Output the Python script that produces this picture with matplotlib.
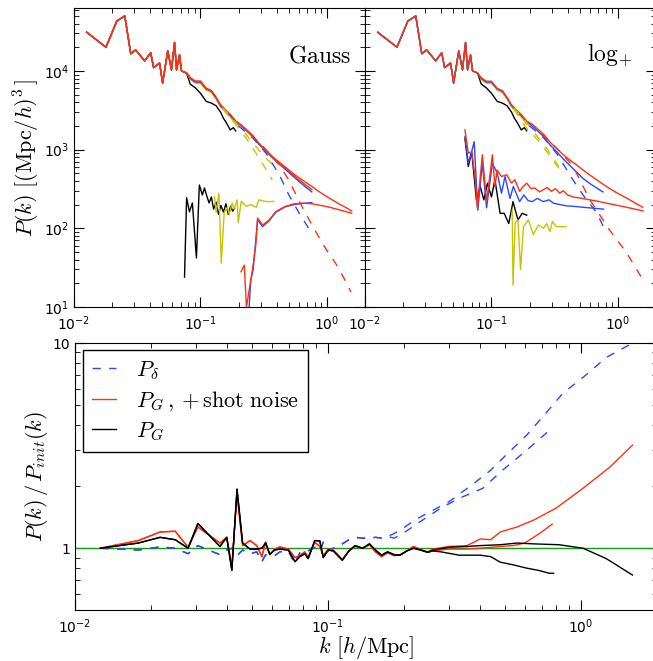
import numpy as np
import matplotlib
matplotlib.use("Agg")
import matplotlib.pyplot as plt
from matplotlib.ticker import FuncFormatter, NullFormatter
from matplotlib.font_manager import FontProperties

RED = '#ff3010'
BLUE = '#2a48ff'
YEL = '#c8c400'
GREEN = '#10a010'

# ---- top panels: shared low-k part of the measured spectra
k_low = [0.0126, 0.0179, 0.0218, 0.0252, 0.0281, 0.0307, 0.0362, 0.0404, 0.0426,
         0.0475, 0.0502, 0.0551, 0.0590, 0.0624, 0.0647, 0.0683, 0.0708, 0.0776]
p_low = [3.1e4, 2.0e4, 4.3e4, 5.0e4, 1.65e4, 1.85e4, 1.34e4, 1.7e4, 1.1e4,
         1.26e4, 7.0e3, 1.8e4, 1.03e4, 2.3e4, 1.03e4, 1.6e4, 1.0e4, 9.4e3]

k_mid = [0.083, 0.091, 0.100, 0.111, 0.122, 0.133, 0.144, 0.152, 0.160, 0.172, 0.182, 0.190]
p_mid_red = [8.2e3, 7.4e3, 7.4e3, 6.0e3, 5.6e3, 4.6e3, 3.7e3, 3.4e3, 3.1e3, 2.8e3, 2.5e3, 2.3e3]
p_mid_blue = [8.0e3, 7.2e3, 7.2e3, 5.9e3, 5.5e3, 4.5e3, 3.6e3, 3.3e3, 3.0e3, 2.7e3, 2.45e3, 2.25e3]
p_mid_yel = [7.8e3, 7.0e3, 6.9e3, 5.7e3, 5.3e3, 4.4e3, 3.5e3, 3.2e3, 2.9e3, 2.6e3, 2.3e3, 2.1e3]
p_mid_blk = [6.8e3, 6.1e3, 5.2e3, 4.1e3, 3.9e3, 3.6e3, 3.0e3, 2.5e3, 2.2e3, 1.78e3, 1.9e3, 1.73e3]

k_hi = [0.21, 0.23, 0.26, 0.29, 0.33, 0.37, 0.42, 0.47, 0.53, 0.60, 0.67, 0.76]
k_ext = [0.86, 0.97, 1.10, 1.24, 1.40, 1.57]

# Gauss panel
g_hi_red = [2.05e3, 1.8e3, 1.5e3, 1.2e3, 980, 820, 690, 600, 510, 440, 390, 340]
g_ext_red = [295, 260, 230, 205, 185, 166]
g_hi_red2 = [2.05e3, 1.8e3, 1.48e3, 1.19e3, 960, 800, 670, 580, 490, 415, 360, 310]
g_hi_blue = [2.0e3, 1.75e3, 1.45e3, 1.17e3, 950, 790, 655, 560, 470, 395, 340, 290]

g_kd_yel_a = [0.15, 0.19, 0.23, 0.28, 0.33, 0.37]
g_pd_yel_a = [3.3e3, 2.1e3, 1.4e3, 860, 560, 410]
g_kd_yel_b = [0.15, 0.19, 0.23, 0.28, 0.34, 0.40]
g_pd_yel_b = [3.4e3, 2.2e3, 1.55e3, 1.05e3, 740, 585]
g_kd_blue = [0.20, 0.26, 0.33, 0.42, 0.50, 0.60, 0.75]
g_pd_blue = [2.0e3, 1.4e3, 900, 480, 265, 158, 89]
g_kd_red = [0.25, 0.33, 0.42, 0.50, 0.60, 0.72, 0.86, 1.00, 1.17, 1.35, 1.55]
g_pd_red = [1.55e3, 1.0e3, 640, 410, 225, 130, 78, 52, 36, 24, 15.5]

g_k_blk_lo = [0.0748, 0.0777, 0.0818, 0.0863, 0.0929, 0.0980, 0.1035, 0.1075, 0.112, 0.117, 0.122,
              0.127, 0.133, 0.139, 0.145, 0.152, 0.159, 0.166, 0.173, 0.180, 0.186]
g_p_blk_lo = [24, 245, 162, 210, 42, 355, 265, 325, 260, 210, 250,
              175, 215, 150, 195, 160, 205, 150, 190, 165, 180]
g_k_yel_lo = [0.129, 0.133, 0.140, 0.146, 0.154, 0.163, 0.169, 0.178, 0.184, 0.195,
              0.199, 0.210, 0.230, 0.250, 0.276, 0.290, 0.320, 0.350, 0.380]
g_p_yel_lo = [250, 160, 280, 36, 160, 185, 150, 210, 175, 230,
              118, 220, 190, 200, 185, 230, 220, 218, 220]
g_k_red_lo = [0.209, 0.222, 0.231, 0.261, 0.274, 0.283, 0.310, 0.350, 0.394,
              0.470, 0.550, 0.650, 0.760, 0.900, 1.05, 1.25, 1.57]
g_p_red_lo = [28, 34, 10, 34, 62, 135, 110, 128, 163, 190, 205, 208, 205, 195, 185, 172, 155]
g_k_blue_lo = [0.236, 0.250, 0.261, 0.270, 0.283, 0.310, 0.350, 0.394, 0.470, 0.550, 0.650, 0.760]
g_p_blue_lo = [5, 22, 30, 55, 128, 105, 125, 160, 188, 200, 208, 212]

# log+ panel
l_hi_red = [2.1e3, 1.85e3, 1.55e3, 1.25e3, 1.02e3, 860, 730, 640, 550, 475, 420, 365]
l_ext_red = [320, 285, 255, 230, 205, 185]
l_hi_blue = [2.0e3, 1.75e3, 1.45e3, 1.15e3, 930, 760, 620, 520, 430, 370, 330, 290]

l_kd_yel_a = [0.15, 0.185, 0.23, 0.28, 0.33, 0.38]
l_pd_yel_a = [3.3e3, 1.96e3, 1.35e3, 900, 620, 480]
l_kd_yel_b = [0.15, 0.19, 0.23, 0.28, 0.34]
l_pd_yel_b = [3.4e3, 2.2e3, 1.47e3, 980, 610]
l_kd_blue = [0.20, 0.26, 0.33, 0.44, 0.53, 0.68, 0.79]
l_pd_blue = [2.0e3, 1.4e3, 880, 415, 265, 158, 95]
l_kd_red = [0.25, 0.33, 0.44, 0.60, 0.86, 1.17, 1.58]
l_pd_red = [1.6e3, 1.03e3, 620, 230, 95, 49, 22]

l_k_red_lo = [0.0617, 0.0656, 0.0698, 0.0741, 0.0773, 0.0847, 0.0915, 0.1017, 0.1065, 0.111,
              0.120, 0.132, 0.144, 0.153, 0.167, 0.178, 0.190, 0.205, 0.220, 0.240,
              0.258, 0.275, 0.298, 0.320, 0.346, 0.370, 0.400, 0.443, 0.520, 0.600,
              0.700, 0.820, 1.00, 1.17, 1.37, 1.58]
l_p_red_lo = [1780, 900, 940, 455, 182, 860, 218, 860, 340, 550,
              455, 480, 375, 415, 295, 340, 375, 320, 325, 290,
              310, 330, 295, 320, 280, 300, 265, 250, 240, 230,
              220, 208, 195, 185, 175, 166]
l_k_blue_lo = [0.0617, 0.0656, 0.0698, 0.0730, 0.0780, 0.0847, 0.0915, 0.1017, 0.111, 0.120,
               0.128, 0.140, 0.149, 0.167, 0.180, 0.195, 0.210, 0.230, 0.258, 0.285,
               0.310, 0.350, 0.390, 0.450, 0.530, 0.640, 0.770]
l_p_blue_lo = [1470, 670, 950, 1260, 170, 670, 182, 670, 505, 280,
               455, 240, 340, 218, 265, 225, 218, 240, 218, 230,
               208, 200, 193, 190, 185, 180, 175]
l_k_blk_lo = [0.0617, 0.0656, 0.0698, 0.0760, 0.0815, 0.0870, 0.0930, 0.1000,
              0.1065, 0.117, 0.126, 0.137, 0.148, 0.162, 0.175, 0.190]
l_p_blk_lo = [1390, 610, 940, 230, 340, 230, 375, 250, 415, 155, 155, 115, 218, 128, 155, 147]
l_k_yel_lo = [0.146, 0.148, 0.154, 0.162, 0.170, 0.179, 0.196, 0.214, 0.235, 0.258,
              0.273, 0.290, 0.303, 0.325, 0.388]
l_p_yel_lo = [170, 19, 117, 128, 30, 105, 128, 83, 110, 100, 115, 91, 122, 105, 105]

# ---- bottom panel: ratio P(k)/P_init(k)
kb = [0.0126, 0.0178, 0.0217, 0.0249, 0.0280, 0.0306, 0.0374, 0.0398, 0.0417, 0.0437,
      0.0460, 0.0492, 0.0523, 0.0548, 0.0567, 0.0589, 0.0616, 0.0645, 0.0697, 0.0741,
      0.0774, 0.0810, 0.0835, 0.0887, 0.0929, 0.0958, 0.1003, 0.105, 0.114, 0.121,
      0.128, 0.137, 0.146, 0.154, 0.163, 0.172, 0.183, 0.193, 0.205, 0.218,
      0.232, 0.248]
rb_black = [1.0, 1.06, 1.13, 1.10, 1.0, 1.32, 1.02, 1.13, 0.78, 1.94,
            1.06, 0.99, 0.99, 1.0, 1.06, 0.935, 0.98, 0.99, 0.98, 0.86,
            0.91, 0.94, 0.89, 1.09, 1.085, 0.90, 0.98, 0.97, 0.874, 0.97,
            1.03, 1.0, 1.05, 0.98, 0.925, 0.96, 0.93, 0.925, 0.97, 1.0,
            0.98, 0.955]
rb_red = [1.0, 1.09, 1.2, 1.21, 1.01, 1.27, 1.06, 1.13, 0.81, 1.85,
          1.03, 1.09, 1.03, 0.91, 1.07, 0.93, 0.99, 1.015, 0.99, 0.90,
          0.92, 0.96, 0.90, 1.07, 1.02, 0.92, 0.99, 0.98, 0.88, 0.97,
          1.02, 1.0, 1.04, 0.96, 0.91, 0.95, 0.92, 0.93, 0.97, 1.02,
          0.985, 0.96]
rb_blue = [1.0, 0.98, 1.015, 1.0, 0.94, 1.03, 0.93, 0.98, 1.0, 0.92,
           0.98, 0.94, 0.96, 0.86, 0.93, 0.92, 0.92, 0.96, 0.97, 0.84,
           0.95, 0.95, 0.97, 1.01, 0.96, 1.07, 0.97, 1.0, 1.05, 1.1,
           1.13, 1.12, 1.12, 1.13, 1.12, 1.14]

k_blue_a = [0.183, 0.198, 0.22, 0.26, 0.30, 0.37, 0.44, 0.52, 0.61, 0.71, 0.85, 1.02, 1.26, 1.58]
r_blue_a = [1.18, 1.25, 1.37, 1.53, 1.68, 2.03, 2.4, 2.94, 3.55, 4.4, 5.7, 6.8, 8.5, 9.9]
k_blue_b = [0.183, 0.198, 0.23, 0.28, 0.33, 0.41, 0.49, 0.61, 0.73, 0.77]
r_blue_b = [1.12, 1.18, 1.34, 1.57, 1.75, 1.96, 2.4, 3.0, 3.64, 3.8]
k_red_a = [0.26, 0.30, 0.355, 0.40, 0.44, 0.48, 0.56, 0.65, 0.80, 1.02, 1.30, 1.60]
r_red_a = [0.99, 1.02, 1.03, 1.11, 1.10, 1.2, 1.27, 1.37, 1.57, 1.96, 2.48, 3.18]
k_red_b = [0.26, 0.30, 0.355, 0.40, 0.44, 0.48, 0.54, 0.60, 0.65, 0.70, 0.77]
r_red_b = [0.97, 0.99, 0.99, 1.0, 1.01, 1.02, 1.03, 1.06, 1.13, 1.2, 1.31]
k_blk_a = [0.26, 0.30, 0.355, 0.40, 0.48, 0.56, 0.65, 0.82, 1.02, 1.26, 1.60]
r_blk_a = [0.98, 1.01, 1.02, 1.03, 1.04, 1.06, 1.05, 1.04, 1.0, 0.89, 0.74]
k_blk_b = [0.26, 0.28, 0.33, 0.40, 0.44, 0.48, 0.54, 0.61, 0.68, 0.75, 0.78]
r_blk_b = [0.97, 0.96, 0.925, 0.925, 0.91, 0.855, 0.83, 0.80, 0.78, 0.755, 0.755]

DASH = (6, 6)
LW = 1.0


def cat(*parts):
    return np.concatenate([np.asarray(p, dtype=float) for p in parts])


def style_axes(ax):
    ax.set_xscale('log')
    ax.set_yscale('log')
    ax.tick_params(which='both', direction='in', top=True, right=True, labelsize=10)
    ax.tick_params(which='major', length=7, width=0.8)
    ax.tick_params(which='minor', length=3.5, width=0.6)
    ax.tick_params(axis='x', pad=5)
    ax.set_xlim(0.01, 2.0)


def top_panel(ax, hi_red, ext_red, hi_blue, hi_red2, dashed, lower):
    style_axes(ax)
    ax.set_ylim(10, 6.3e4)
    # upper bundle
    ax.plot(cat(k_low, k_mid), cat(p_low, p_mid_blk), color='k', lw=LW)
    ax.plot(cat(k_low, k_mid), cat(p_low, p_mid_yel), color=YEL, lw=LW)
    ax.plot(cat(k_low, k_mid, k_hi), cat(p_low, p_mid_blue, hi_blue), color=BLUE, lw=LW)
    if hi_red2 is not None:
        ax.plot(cat(k_low, k_mid, k_hi), cat(p_low, p_mid_red, hi_red2), color=RED, lw=LW)
    ax.plot(cat(k_low, k_mid, k_hi, k_ext), cat(p_low, p_mid_red, hi_red, ext_red),
            color=RED, lw=LW)
    # dashed
    for (kk, pp, c) in dashed:
        ax.plot(kk, pp, color=c, lw=LW, dashes=DASH)
    # lower group
    for (kk, pp, c) in lower:
        ax.plot(kk, pp, color=c, lw=LW)


fig = plt.figure(figsize=(6.53, 6.61), dpi=100)
W, H = 653.0, 661.0
ax1 = fig.add_axes([74 / W, 1 - 307 / H, 291 / W, 299 / H])
ax2 = fig.add_axes([365 / W, 1 - 307 / H, 291 / W, 299 / H])
ax3 = fig.add_axes([75 / W, 1 - 610 / H, 582 / W, 267 / H])

top_panel(ax1, g_hi_red, g_ext_red, g_hi_blue, g_hi_red2,
          [(g_kd_yel_a, g_pd_yel_a, YEL), (g_kd_yel_b, g_pd_yel_b, YEL),
           (g_kd_blue, g_pd_blue, BLUE), (g_kd_red, g_pd_red, RED)],
          [(g_k_blk_lo, g_p_blk_lo, 'k'), (g_k_yel_lo, g_p_yel_lo, YEL),
           (g_k_blue_lo, g_p_blue_lo, BLUE), (g_k_red_lo, g_p_red_lo, RED)])
top_panel(ax2, l_hi_red, l_ext_red, l_hi_blue, None,
          [(l_kd_yel_a, l_pd_yel_a, YEL), (l_kd_yel_b, l_pd_yel_b, YEL),
           (l_kd_blue, l_pd_blue, BLUE), (l_kd_red, l_pd_red, RED)],
          [(l_k_blk_lo, l_p_blk_lo, 'k'), (l_k_yel_lo, l_p_yel_lo, YEL),
           (l_k_blue_lo, l_p_blue_lo, BLUE), (l_k_red_lo, l_p_red_lo, RED)])
ax2.tick_params(labelleft=False)

ax1.set_ylabel(r'$P(k)\ [(\mathrm{Mpc}/h)^3\,]$', fontsize=16, math_fontfamily='cm', labelpad=1)
ax1.text(0.845, 0.84, r'$\mathrm{Gauss}$', transform=ax1.transAxes, fontsize=17,
         math_fontfamily='cm', ha='center', va='center')
ax2.text(0.84, 0.84, r'$\log_+$', transform=ax2.transAxes, fontsize=17,
         math_fontfamily='cm', ha='center', va='center')

# bottom panel
style_axes(ax3)
ax3.set_ylim(0.5, 10)
ax3.axhline(1.0, color=GREEN, lw=LW)
n_blue = len(rb_blue)
ax3.plot(cat(kb[:n_blue], k_blue_b), cat(rb_blue, r_blue_b), color=BLUE, lw=LW, dashes=DASH)
ax3.plot(cat(kb[:n_blue], k_blue_a), cat(rb_blue, r_blue_a), color=BLUE, lw=LW, dashes=DASH,
         label=r'$P_\delta$')
ax3.plot(cat(kb, k_red_b), cat(rb_red, r_red_b), color=RED, lw=LW)
ax3.plot(cat(kb, k_red_a), cat(rb_red, r_red_a), color=RED, lw=LW,
         label=r'$P_G\,,+\mathrm{shot\ noise}$')
ax3.plot(cat(kb, k_blk_b), cat(rb_black, r_blk_b), color='k', lw=LW)
ax3.plot(cat(kb, k_blk_a), cat(rb_black, r_blk_a), color='k', lw=LW, label=r'$P_G$')

ax3.yaxis.set_major_formatter(FuncFormatter(lambda v, p: '%g' % v))
ax3.yaxis.set_minor_formatter(NullFormatter())
ax3.set_ylabel(r'$P(k)\,/\,P_{init}(k)$', fontsize=16, math_fontfamily='cm', labelpad=2)
ax3.set_xlabel(r'$k\ [h/\mathrm{Mpc}]$', fontsize=16, math_fontfamily='cm', labelpad=-1)

leg_font = FontProperties(size=16, math_fontfamily='cm')
leg = ax3.legend(loc='upper left', bbox_to_anchor=(0.0137, 0.974), borderaxespad=0,
                 prop=leg_font, handlelength=1.1, handletextpad=0.9, labelspacing=0.35,
                 fancybox=False, framealpha=1, edgecolor='k')
leg.get_frame().set_linewidth(1.0)

fig.savefig('out.png', dpi=100)
